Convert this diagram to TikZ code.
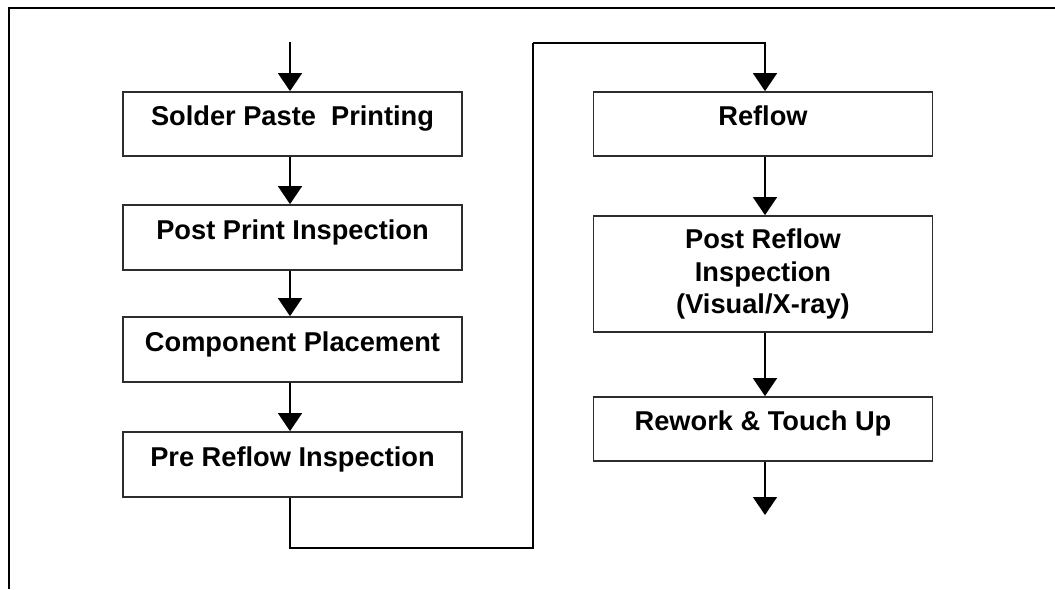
\documentclass[tikz,border=0pt]{standalone}
\usepackage{fontspec}
\setmainfont{Liberation Sans}
\usetikzlibrary{arrows.meta}
\definecolor{boxline}{RGB}{45,45,45}

\begin{document}
\begin{tikzpicture}[x=0.02cm,y=-0.02cm,
        stepbox/.style={draw=boxline,line width=1pt,minimum width=339*0.02cm,
            inner sep=0pt,align=center,font=\fontsize{15.5}{18.7}\selectfont\bfseries},
        onebox/.style={stepbox,text height=0.75em,text depth=0.55em},
        flow/.style={line width=0.85pt,-{Triangle[width=13.6pt,length=10.2pt]}},
        wire/.style={line width=0.85pt}]
        \useasboundingbox (0,0) rectangle (1055,589);

        % frame
        \draw[line width=0.6pt] (1055,8) -- (9,8) -- (9,589);

        % left column
        \node[onebox,minimum height=64*0.02cm] (spp) at (292.5,124) {Solder Paste~ Printing};
        \node[onebox,minimum height=65*0.02cm] (ppi) at (292.5,237.5) {Post Print Inspection};
        \node[onebox,minimum height=65*0.02cm] (cpl) at (292.5,349.5) {Component Placement};
        \node[onebox,minimum height=65*0.02cm] (pri) at (292.5,464.5) {Pre Reflow Inspection};

        % right column
        \node[onebox,minimum height=64*0.02cm] (rfl) at (763,124) {Reflow};
        \node[stepbox,minimum height=116*0.02cm] (pri2) at (763,274) {Post Reflow\\Inspection\\(Visual/X-ray)};
        \node[onebox,minimum height=64*0.02cm] (rtu) at (763,429) {Rework \& Touch Up};

        % loose ends
        \coordinate (start) at (290,42);
        \coordinate (low) at (533,548);
        \coordinate (high) at (533,43);
        \coordinate (finish) at (765,515);

        % arrows
        \draw[flow] (start) -- (spp.north -| start);
        \draw[flow] (spp.south -| start) -- (ppi.north -| start);
        \draw[flow] (ppi.south -| start) -- (cpl.north -| start);
        \draw[flow] (cpl.south -| start) -- (pri.north -| start);
        \draw[wire] (pri.south -| start) |- (low) -- (high);
        \draw[flow] (high) -| (rfl.north -| finish);
        \draw[flow] (rfl.south -| finish) -- (pri2.north -| finish);
        \draw[flow] (pri2.south -| finish) -- (rtu.north -| finish);
        \draw[flow] (rtu.south -| finish) -- (finish);
    \end{tikzpicture}
\end{document}
